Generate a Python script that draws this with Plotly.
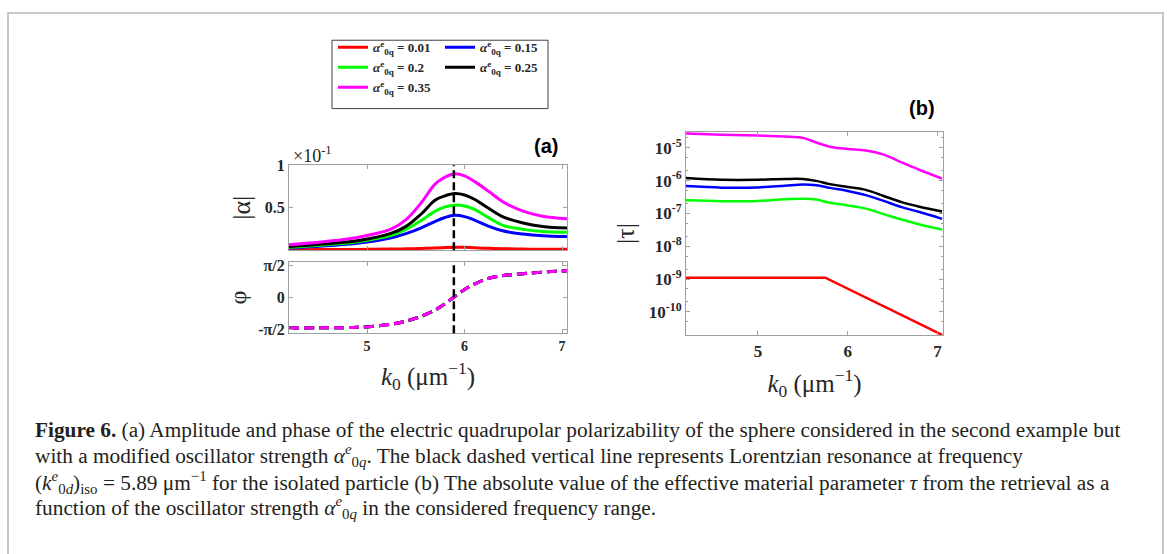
import math
import plotly.graph_objects as go

# ---------------- data ----------------
strengths = ["0.01", "0.15", "0.2", "0.25", "0.35"]
colors = ["#ff0000", "#0000ff", "#00ff00", "#000000", "#ff00ff"]
legend_groups = ["legend", "legend2", "legend", "legend2", "legend"]

k_res = 5.89  # Lorentzian resonance (um^-1)

# panel (a): |alpha| in units of 1e-1
k_a = [4.2, 4.55, 4.9, 5.25, 5.4, 5.55, 5.7, 5.8, 5.9, 6.0, 6.1, 6.25, 6.4, 6.6, 6.8, 7.05]
alpha_001 = [0.005, 0.007, 0.009, 0.013, 0.016, 0.020, 0.026, 0.031, 0.035, 0.033, 0.028, 0.022, 0.017, 0.013, 0.011, 0.010]
alpha_015 = [0.027, 0.050, 0.080, 0.145, 0.195, 0.260, 0.340, 0.385, 0.410, 0.395, 0.355, 0.280, 0.225, 0.190, 0.170, 0.160]
alpha_02 = [0.034, 0.061, 0.100, 0.175, 0.245, 0.345, 0.460, 0.510, 0.530, 0.520, 0.480, 0.380, 0.290, 0.245, 0.220, 0.210]
alpha_025 = [0.042, 0.073, 0.110, 0.200, 0.280, 0.420, 0.590, 0.640, 0.667, 0.650, 0.600, 0.490, 0.390, 0.320, 0.280, 0.260]
alpha_035 = [0.065, 0.100, 0.150, 0.250, 0.360, 0.550, 0.780, 0.860, 0.900, 0.875, 0.810, 0.690, 0.565, 0.460, 0.400, 0.370]
alpha_all = [alpha_001, alpha_015, alpha_02, alpha_025, alpha_035]

# phase (rad), identical for all strengths
phase = [-1.50, -1.48, -1.46, -1.31, -1.16, -0.93, -0.61, -0.30, 0.05, 0.40, 0.66, 0.95, 1.08, 1.17, 1.25, 1.32]

# panel (b): |tau|
k_b = [4.2, 4.6, 5.0, 5.3, 5.5, 5.65, 5.8, 6.0, 6.2, 6.4, 6.6, 6.8, 7.05]
tau_015 = [6.8e-7, 6.1e-7, 6.2e-7, 7.0e-7, 7.6e-7, 7.2e-7, 6.0e-7, 4.8e-7, 3.6e-7, 2.4e-7, 1.55e-7, 1.1e-7, 6.8e-8]
tau_02 = [2.5e-7, 2.35e-7, 2.4e-7, 2.7e-7, 2.8e-7, 2.65e-7, 2.1e-7, 1.75e-7, 1.4e-7, 9.5e-8, 6.5e-8, 4.6e-8, 3.2e-8]
tau_025 = [1.2e-6, 1.06e-6, 1.06e-6, 1.12e-6, 1.12e-6, 9.8e-7, 7.8e-7, 6.4e-7, 5.2e-7, 3.4e-7, 2.2e-7, 1.6e-7, 1.15e-7]
tau_035 = [2.7e-5, 2.5e-5, 2.35e-5, 2.2e-5, 2.0e-5, 1.45e-5, 1.08e-5, 9.2e-6, 8.3e-6, 6.2e-6, 3.6e-6, 2.1e-6, 1.15e-6]
k_b_red = [4.2, 5.75, 7.05]
tau_001 = [1.1e-9, 1.1e-9, 2.0e-11]

x_ticks = [5, 6, 7]
alpha_ticks = [0.5, 1]
alpha_ticktext = ["0.5", "1"]
phase_ticks = [-math.pi / 2, 0, math.pi / 2]
phase_ticktext = ["-π/2", "0", "π/2"]
tau_ticks = [1e-10, 1e-9, 1e-8, 1e-7, 1e-6, 1e-5]
tau_ticktext = ["10<sup>-10</sup>", "10<sup>-9</sup>", "10<sup>-8</sup>", "10<sup>-7</sup>", "10<sup>-6</sup>", "10<sup>-5</sup>"]

caption_lines = [
    "<b>Figure 6.</b> (a) Amplitude and phase of the electric quadrupolar polarizability of the sphere considered in the second example but",
    "with a modified oscillator strength <i>α</i><sup><i>e</i></sup><sub>0<i>q</i></sub>. The black dashed vertical line represents Lorentzian resonance at frequency",
    "(<i>k</i><sup><i>e</i></sup><sub>0<i>d</i></sub>)<sub>iso</sub> = 5.89 μm<sup>−1</sup> for the isolated particle (b) The absolute value of the effective material parameter <i>τ</i> from the retrieval as a",
    "function of the oscillator strength <i>α</i><sup><i>e</i></sup><sub>0<i>q</i></sub> in the considered frequency range.",
]

# ---------------- layout helpers ----------------
W, H = 1167, 554


def px(x):
    return x / W


def py(y):
    return 1 - y / H


SERIF = "Liberation Serif"
AX_GRAY = "#a0a0a0"
TXT = "#262626"

fig = go.Figure()

for name, col, lg, vals in zip(strengths, colors, legend_groups, alpha_all):
    fig.add_trace(go.Scatter(
        x=k_a, y=vals, mode="lines", line=dict(color=col, width=3, shape="spline"),
        name=f"<i>α</i><sup>e</sup><sub>0q</sub> = {name}", legend=lg, legendgroup=name,
        xaxis="x", yaxis="y"))

for name, col in zip(strengths, colors):
    fig.add_trace(go.Scatter(
        x=k_a, y=phase, mode="lines", showlegend=False,
        line=dict(color=col, width=3, dash="10px,5px", shape="spline"),
        xaxis="x2", yaxis="y2"))

tau_sets = [(k_b_red, tau_001, "linear"), (k_b, tau_015, "spline"), (k_b, tau_02, "spline"),
            (k_b, tau_025, "spline"), (k_b, tau_035, "spline")]
for (kx, vals, shp), col in zip(tau_sets, colors):
    fig.add_trace(go.Scatter(
        x=kx, y=vals, mode="lines", showlegend=False,
        line=dict(color=col, width=2.5, shape=shp),
        xaxis="x3", yaxis="y3"))

common_ax = dict(showline=True, linecolor=AX_GRAY, linewidth=1, mirror="ticks",
                 ticks="inside", ticklen=4, tickcolor=AX_GRAY, showgrid=False, zeroline=False)

xtick_a = dict(family=SERIF, size=14, color=TXT, weight="bold")
ytick_a = dict(family=SERIF, size=16, color=TXT, weight="bold")
tickfont_b = dict(family=SERIF, size=17, color=TXT, weight="bold")
ytitle_font = dict(family=SERIF, size=26, color=TXT)
xtitle_font = dict(family=SERIF, size=25, color=TXT)
xtitle = "<i>k</i><sub>0</sub> (μm<sup>−1</sup>)"
legend_font = dict(family=SERIF, size=13, color=TXT, weight="bold")

fig.update_layout(
    width=W, height=H, autosize=False,
    margin=dict(l=0, r=0, t=0, b=0),
    paper_bgcolor="white", plot_bgcolor="white",
    xaxis=dict(domain=[px(289), px(567)], anchor="y", range=[4.2, 7.05],
               tickvals=x_ticks, showticklabels=False, **common_ax),
    yaxis=dict(domain=[py(248), py(161)], anchor="x", range=[0, 1],
               tickvals=alpha_ticks, ticktext=alpha_ticktext, tickfont=ytick_a,
               title=dict(text="|α|", font=ytitle_font, standoff=6), **common_ax),
    xaxis2=dict(domain=[px(289), px(567)], anchor="y2", range=[4.2, 7.05],
                tickvals=x_ticks, tickfont=xtick_a,
                title=dict(text=xtitle, font=xtitle_font, standoff=14), **common_ax),
    yaxis2=dict(domain=[py(333), py(260)], anchor="x2", range=[-1.75, 1.75],
                tickvals=phase_ticks, ticktext=phase_ticktext, tickfont=ytick_a,
                title=dict(text="φ", font=dict(family=SERIF, size=24, color=TXT), standoff=4), **common_ax),
    xaxis3=dict(domain=[px(686), px(943)], anchor="y3", range=[4.2, 7.06],
                tickvals=x_ticks, tickfont=tickfont_b,
                title=dict(text=xtitle, font=xtitle_font, standoff=14), **common_ax),
    yaxis3=dict(domain=[py(335), py(127)], anchor="x3", type="log", range=[-10.71, -4.52],
                tickvals=tau_ticks, ticktext=tau_ticktext, tickfont=tickfont_b,
                minor=dict(ticks="inside", ticklen=2, tickcolor=AX_GRAY),
                title=dict(text="|τ|", font=ytitle_font, standoff=6), **common_ax),
    legend=dict(x=px(333), y=py(25), xanchor="left", yanchor="top", bgcolor="rgba(0,0,0,0)",
                font=legend_font, traceorder="grouped", tracegroupgap=0),
    legend2=dict(x=px(440), y=py(25), xanchor="left", yanchor="top", bgcolor="rgba(0,0,0,0)",
                 font=legend_font, traceorder="grouped", tracegroupgap=0),
)

shapes = [
    dict(type="line", xref="x", yref="y domain", x0=k_res, x1=k_res, y0=0, y1=1,
         line=dict(color="black", width=2.5, dash="8px,4px")),
    dict(type="line", xref="x2", yref="y2 domain", x0=k_res, x1=k_res, y0=0, y1=1,
         line=dict(color="black", width=2.5, dash="8px,4px")),
    dict(type="rect", xref="paper", yref="paper", x0=px(332), x1=px(548), y0=py(103), y1=py(33),
         line=dict(color="#404040", width=1)),
    dict(type="path", xref="paper", yref="paper",
         path=f"M {px(8)},{py(560)} L {px(8)},{py(5)} L {px(1163)},{py(5)} L {px(1163)},{py(560)}",
         line=dict(color="#c8c8c8", width=2)),
]
fig.update_layout(shapes=shapes)

annotations = [
    dict(text="×10<sup>-1</sup>", x=px(291), y=py(150), xref="paper", yref="paper",
         xanchor="left", yanchor="middle", showarrow=False, font=dict(family=SERIF, size=18, color=TXT)),
    dict(text="<b>(a)</b>", x=px(546), y=py(141), xref="paper", yref="paper",
         xanchor="center", yanchor="middle", showarrow=False, font=dict(family="Liberation Sans", size=20, color="black")),
    dict(text="<b>(b)</b>", x=px(922), y=py(102), xref="paper", yref="paper",
         xanchor="center", yanchor="middle", showarrow=False, font=dict(family="Liberation Sans", size=20, color="black")),
]
for line_text, yc in zip(caption_lines, [432, 458, 486, 511]):
    annotations.append(dict(text=line_text, x=px(33), y=py(yc), xref="paper", yref="paper",
                            xanchor="left", yanchor="middle", showarrow=False, align="left",
                            font=dict(family=SERIF, size=21.3, color="#231f20")))
fig.update_layout(annotations=annotations)

fig.write_html("out.html")
